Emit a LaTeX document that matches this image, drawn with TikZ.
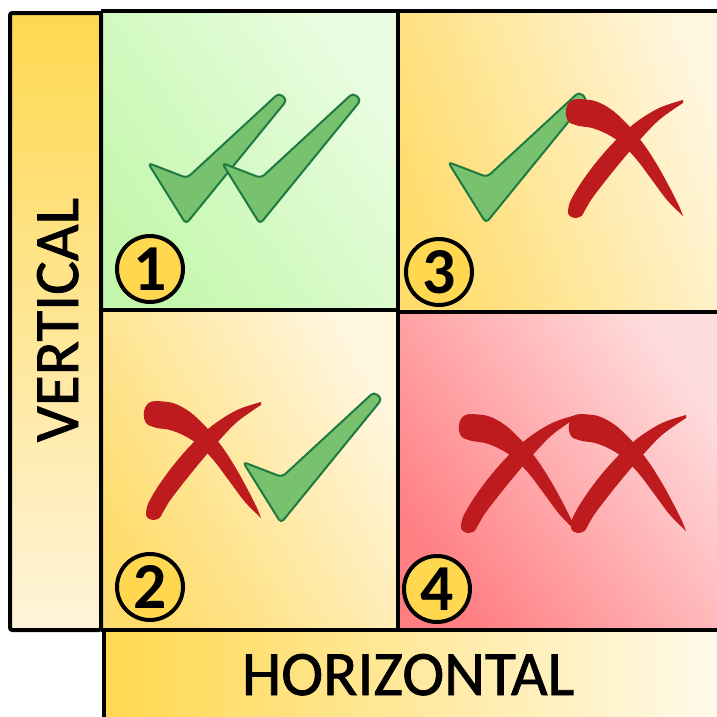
\documentclass[tikz,border=0pt]{standalone}
\usepackage{fontspec}
\setmainfont{Carlito}
\newfontfamily\labfont{Carlito}[FakeBold=1.2]
\definecolor{vtop}{HTML}{FFD850}
\definecolor{vbot}{HTML}{FFF4DA}
\definecolor{hleft}{HTML}{FFD850}
\definecolor{hright}{HTML}{FFFAEB}
\definecolor{gdark}{HTML}{C4F7AD}
\definecolor{glight}{HTML}{EAFDE2}
\definecolor{ydark}{HTML}{FFDC6C}
\definecolor{ylight}{HTML}{FFF6DF}
\definecolor{rdark}{HTML}{FF7E82}
\definecolor{rlight}{HTML}{FFDDDE}
\definecolor{chkfill}{HTML}{78C16E}
\definecolor{chkline}{HTML}{1E7A40}
\definecolor{xred}{HTML}{BE1B1E}
\definecolor{numfill}{HTML}{FFD850}
\tikzset{
  bd/.style={draw=black, line width=0.12cm},
  chkst/.style={fill=chkfill, draw=chkline, line width=0.06cm, rounded corners=3.5pt, line join=round},
  numc/.style={circle, draw=black, line width=0.12cm, fill=numfill, minimum size=1.98cm, inner sep=0pt, font=\fontsize{56}{56}\selectfont\bfseries},
  lab/.style={font=\fontsize{54}{60}\selectfont\labfont, inner sep=0pt},
  chk/.pic={\path[chkst] (0,0) -- (39,15) -- (131,-70) -- (139,-63) -- (38,61) -- cycle;},
  redx/.pic={
    \fill[xred] plot[smooth, tension=0.55] coordinates {(10,1) (28,3) (45,12) (62,28) (78,48) (92,70) (104,92) (112,108) (116,118)}
      -- plot[smooth, tension=0.55] coordinates {(116,118) (100,102) (85,82) (70,62) (55,46) (40,36) (25,30) (12,28) (3,25)}
      .. controls (-4,20) and (-3,1) .. (10,1) -- cycle;
    \fill[xred] plot[smooth, tension=0.55] coordinates {(116,2) (92,10) (68,25) (46,45) (27,67) (12,88) (3,104) (1,113)}
      .. controls (0,121) and (13,122) .. (16,116)
      -- plot[smooth, tension=0.55] coordinates {(16,116) (24,102) (36,86) (52,66) (70,45) (92,22) (116,5)} -- cycle;
  }
}
\begin{document}
\begin{tikzpicture}[x=0.03cm, y=-0.03cm]
\useasboundingbox (0,0) rectangle (717,717);
\begin{scope}
\clip (0,0) rectangle (717,717);
% fills
\path[top color=vtop, bottom color=vbot] (10,13) rectangle (101,630);
\path[left color=hleft, right color=hright] (104,630) rectangle (722,722);
\path[top color=glight, bottom color=gdark, shading angle=-55] (101,11) rectangle (398,310);
\path[top color=ylight, bottom color=ydark, shading angle=-70] (398,11) rectangle (722,312);
\path[top color=ylight, bottom color=ydark, shading angle=-60] (101,310) rectangle (398,630);
\path[top color=rlight, bottom color=rdark, shading angle=-55] (398,312) rectangle (722,630);
% borders
\draw[bd, rounded corners=2pt] (10,13) rectangle (101,630);
\draw[bd] (101,11) -- (722,11);
\draw[bd] (101,11) -- (101,630);
\draw[bd] (101,310) -- (398,310);
\draw[bd] (398,312) -- (722,312);
\draw[bd] (398,11) -- (398,630);
\draw[bd] (101,630) -- (722,630);
\draw[bd] (104,630) -- (104,722);
\end{scope}
% labels
\node[lab, rotate=90, anchor=base] (vert) at (78,320) {VERTICAL};
\node[lab, anchor=base] (horiz) at (408,695) {HORIZONTAL};
% quadrant 1
\pic at (148,163) {chk};
\pic at (222,163) {chk};
% quadrant 3
\pic at (448,162) {chk};
\pic at (567,98) {redx};
% quadrant 2
\pic at (145,400) {redx};
\pic at (243,462) {chk};
% quadrant 4
\pic at (460,413) {redx};
\pic at (570,413) {redx};
% numbers
\node[numc] (n1) at (150,269) {1};
\node[numc] (n3) at (439,272) {3};
\node[numc] (n2) at (150,587) {2};
\node[numc] (n4) at (437,589) {4};
\end{tikzpicture}
\end{document}
